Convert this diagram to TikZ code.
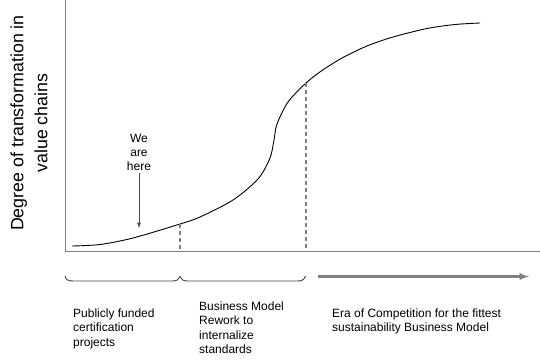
\documentclass[tikz,border=0pt]{standalone}
\usepackage{fontspec}
\setmainfont{Liberation Sans}
\usetikzlibrary{arrows}
\definecolor{axisgray}{RGB}{128,128,128}
\definecolor{pointgray}{RGB}{70,70,70}
\tikzset{phase/.style={anchor=north west, inner sep=0pt, align=left, font=\fontsize{12}{14.5}\selectfont}}

\begin{document}
\begin{tikzpicture}[x=1pt, y=-1pt]
\useasboundingbox (0,0) rectangle (540,360);
\node[rotate=90, align=center, font=\fontsize{17.8}{24}\selectfont](ylabel) at (29,123){Degree of transformation in\\value chains};
\draw[axisgray, line width=1.8pt] (65.5,0) -- (65.5,251.5) -- (540,251.5);
\coordinate (c1) at (180,224);
\coordinate (c2) at (306,83);
\draw[line width=0.9pt] plot[smooth, tension=0.5] coordinates {(72,246) (100,244.5) (133,238) (c1) (200,217) (233,200) (258,179) (270,158) (274,140) (277,124) (288,102) (c2) (322,70.5) (343,57.5) (367,46) (393,37) (427,28.5) (455,24.5) (480,23)};
\draw[axisgray, line width=1.3pt, dash pattern=on 4pt off 3pt] (c1) -- (180,251);
\draw[axisgray, line width=1.3pt, dash pattern=on 4pt off 3pt] (c2) -- (306,251);
\node[anchor=north, inner sep=0pt, align=center, font=\fontsize{12}{13.7}\selectfont](here) at (139,134.3){We\\are\\here};
\coordinate (herept) at (139,228);
\draw[pointgray, line width=0.9pt, -latex] ([yshift=-3pt]here.south) -- (herept);
\draw[pointgray, line width=0.9pt] (65,276) .. controls (66,280) and (68,281) .. (74,281) -- (172,281) .. controls (177,281) and (179,279.5) .. (180,276.5) .. controls (181,279.5) and (183,281) .. (188,281) -- (297,281) .. controls (302,281) and (304,280) .. (305.5,276);
\coordinate (erastart) at (318,276.5);
\coordinate (eraend) at (529,276.5);
\draw[axisgray, line width=2.2pt, -latex] (erastart) -- (eraend);
\node[phase](funded) at (73,308.3){Publicly funded\\certification\\projects};
\node[phase](rework) at (199,301.3){Business Model\\Rework to\\internalize\\standards};
\node[phase](era) at (332,308.3){Era of Competition for the fittest\\sustainability Business Model};
\end{tikzpicture}
\end{document}
